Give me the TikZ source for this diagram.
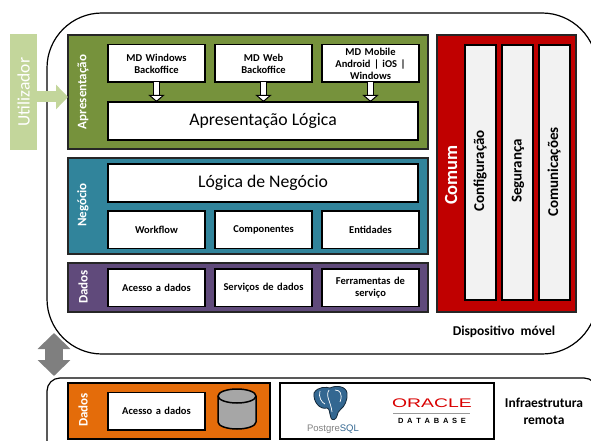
\documentclass[tikz,border=0pt]{standalone}
\usepackage{fontspec}
\setmainfont{Carlito}
\newfontfamily\logofont{Liberation Sans}
\usetikzlibrary{arrows.meta, positioning}
\definecolor{mgreen}{HTML}{76923C}
\definecolor{mteal}{HTML}{31849B}
\definecolor{mpurp}{HTML}{604A7B}
\definecolor{mred}{HTML}{C00000}
\definecolor{morange}{HTML}{E46C0A}
\definecolor{mlight}{HTML}{C3D69B}
\definecolor{mgray}{HTML}{7F7F7F}
\definecolor{mpg}{HTML}{336791}
\tikzstyle{device} = [rectangle, draw=black, line width=1.2pt, fill=white, outer sep=0pt, anchor=north west]
\tikzstyle{panel} = [rectangle, draw=black!85, line width=1.5pt, outer sep=0pt, anchor=north west, minimum height=1cm]
\tikzstyle{item} = [rectangle, draw=black, line width=1.5pt, fill=white, outer sep=0pt, minimum width=97pt, minimum height=37.5pt, text width=94pt, inner sep=0pt, font=\fontsize{10.5}{12}\selectfont\bfseries]
\tikzstyle{wide} = [rectangle, draw=black, line width=1.5pt, fill=white, outer sep=0pt, minimum width=310pt, minimum height=38pt, inner sep=0pt, font=\fontsize{17.7}{20}\selectfont]
\tikzstyle{column} = [rectangle, draw=black, line width=1.5pt, fill=black!5, outer sep=0pt, minimum width=31pt, minimum height=255pt, inner sep=0pt, anchor=north west]
\tikzstyle{side} = [rotate=90, text=white, font=\fontsize{13}{15}\selectfont\bfseries]
\tikzstyle{vlabel} = [rotate=90, font=\fontsize{15}{17}\selectfont\bfseries]
\tikzstyle{note} = [font=\fontsize{13.5}{17}\selectfont\bfseries]
\tikzstyle{feed} = [draw=black, line width=1pt, double=white, double distance=5pt, -{Triangle[fill=white, length=7pt, width=16pt, line width=1pt]}]

\begin{document}
\begin{tikzpicture}[x=1pt, y=-1pt, align=center, node distance=10pt]
  \useasboundingbox (0,0) rectangle (591,441);
  \node (device) [device, rounded corners=55pt, minimum width=550pt, minimum height=341pt] at (47,13) {};
  \node (infra) [device, rounded corners=13pt, minimum width=550pt, minimum height=80pt] at (47,378) {};

  % left column of panels
  \node (apres) [panel, fill=mgreen, minimum width=360pt, minimum height=114pt] at (68,35) {};
  \node (neg) [panel, fill=mteal, minimum width=360pt, minimum height=96pt, below=9pt of apres.south west, anchor=north west] {};
  \node (dad) [panel, fill=mpurp, minimum width=360pt, minimum height=49pt, below=9pt of neg.south west, anchor=north west] {};
  \node (com) [panel, fill=mred, minimum width=139pt, minimum height=277pt, right=9pt of apres.north east, anchor=north west] {};
  \node (infradad) [panel, fill=morange, draw=black, minimum width=202pt, minimum height=56pt] at (68,383) {};
  \node (logos) [panel, fill=white, draw=black, minimum width=214pt, minimum height=56pt, right=10pt of infradad.north east, anchor=north west] {};

  \node (lapres) [side] at (83,92) {Apresentação};
  \node (lneg) [side] at (83,205) {Negócio};
  \node (ldad) [side] at (83,287) {Dados};
  \node (ldados) [side] at (83,410) {Dados};
  \node (lcom) [side, font=\fontsize{18.5}{20}\selectfont\bfseries] at (451,175) {Comum};

  % Apresentacao
  \node (win) [item] at (156.5,63.5) {MD Windows\\Backoffice};
  \node (web) [item, right= of win] {MD Web\\Backoffice};
  \node (mob) [item, right= of web] {MD Mobile\\Android | iOS |\\Windows};
  \node (alog) [wide] at (263,121) {Apresentação Lógica};
  \draw [feed] (win) -- (win |- alog.north);
  \draw [feed] (web) -- (web |- alog.north);
  \draw [feed] (mob) -- (mob |- alog.north);

  % Negocio
  \node (nlog) [wide] at (263,183) {Lógica de Negócio};
  \node (work) [item, below= 9pt of nlog.south west, anchor=north west] {Workflow};
  \node (comp) [item, right= of work] {Componentes};
  \node (ent) [item, right= of comp] {Entidades};

  % Dados
  \node (ace) [item] at (156.5,287.5) {Acesso a dados};
  \node (serv) [item, right= of ace] {Serviços de dados};
  \node (ferr) [item, right= of serv] {Ferramentas de\\serviço};

  % Comum
  \node (conf) [column] at (465,45) {};
  \node (seg) [column, right= 6pt of conf.north east, anchor=north west] {};
  \node (comu) [column, right= 6pt of seg.north east, anchor=north west] {};
  \node (lconf) [vlabel] at (480,171) {Configuração};
  \node (lseg) [vlabel] at (518,171) {Segurança};
  \node (lcomu) [vlabel] at (554,172) {Comunicações};

  % infraestrutura
  \node (ace2) [item] at (156.5,411) {Acesso a dados};
  \draw [draw=black, line width=1.5pt, fill=black!35] (218,396) -- (218,422) arc[start angle=180, end angle=360, x radius=19pt, y radius=7pt] -- (256,396) arc[start angle=360, end angle=180, x radius=19pt, y radius=-7pt] -- cycle;
  \draw [draw=black, line width=1.5pt] (218,396) arc[start angle=180, end angle=360, x radius=19pt, y radius=7pt];
  \node (pgtext) [font=\fontsize{9.5}{10}\selectfont\logofont] at (333,429) {\textcolor{black!50}{Postgre}\textcolor{mpg}{SQL}};
  \node (oracle) [inner sep=0pt, xscale=1.55, text=red!85!black, font=\fontsize{12.5}{13}\selectfont\logofont] at (432,403.5) {ORACLE};
  \node (dbase) [inner sep=0pt, font=\fontsize{7.5}{9}\selectfont\bfseries\logofont] at (432,421) {D\,\,\,A\,\,\,T\,\,\,A\,\,\,B\,\,\,A\,\,\,S\,\,\,E};
  \draw [black!40, line width=0.8pt] (393,413) -- (470,413);
  \draw [fill=mpg, draw=black!60!mpg, line width=0.8pt] (314,393) .. controls (318,386) and (327,387) .. (330,388) .. controls (336,385) and (346,386) .. (347,393) .. controls (348,400) and (344,407) .. (341,409) .. controls (338,411) and (338,413) .. (337,416) .. controls (336,420) and (332,421) .. (331,418) .. controls (329,412) and (330,409) .. (327,408) .. controls (320,410) and (313,402) .. (314,393) -- cycle;
  \draw [white, line width=0.7pt] (320,391) .. controls (318,397) and (322,403) .. (325,404);
  \draw [white, line width=0.7pt] (329,390) .. controls (325,396) and (331,402) .. (332,412);
  \draw [white, line width=0.7pt] (335,390) .. controls (340,390) and (343,394) .. (340,402);

  \node (lremota) [note] at (544,411) {Infraestrutura\\remota};
  \node (lmovel) [note] at (504,332) {Dispositivo~ móvel};

  % utilizador
  \node (util) [rectangle, fill=mlight, minimum width=27pt, minimum height=116pt, inner sep=0pt, outer sep=0pt] at (23.5,92) {};
  \node (lutil) [rotate=90, text=white, font=\fontsize{17.5}{19}\selectfont] at (23.5,92) {Utilizador};
  \draw [line width=11pt, mlight, -{Triangle[length=12pt, width=24pt]}] ([yshift=-5pt]util.east) -- ([yshift=-5pt]apres.west);

  \coordinate (ctop) at (54,333);
  \coordinate (cbot) at (54,376);
  \draw [line width=18pt, mgray, {Triangle[length=16pt, width=32pt]}-{Triangle[length=16pt, width=32pt]}] (ctop) -- (cbot);
\end{tikzpicture}
\end{document}
